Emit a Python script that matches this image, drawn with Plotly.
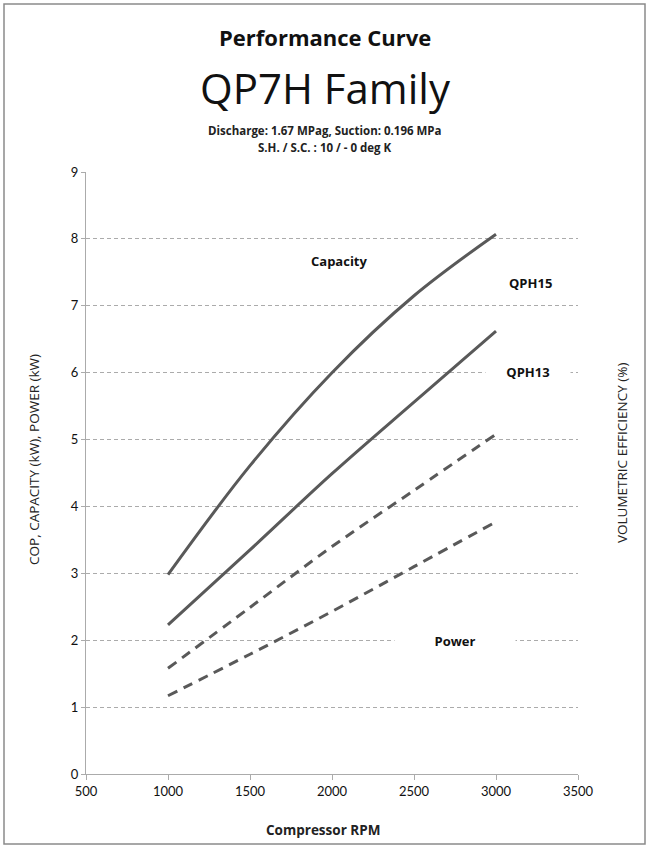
import plotly.graph_objects as go

# ---- data ----
rpm = [1000, 1500, 2000, 2500, 3000]
capacity_qph15 = [2.98, 4.61, 6.00, 7.15, 8.07]
capacity_qph13 = [2.23, 3.35, 4.49, 5.56, 6.62]
power_qph15 = [1.58, 2.49, 3.40, 4.24, 5.08]
power_qph13 = [1.17, 1.79, 2.43, 3.10, 3.77]

x_ticks = [500, 1000, 1500, 2000, 2500, 3000, 3500]
y_ticks = [0, 1, 2, 3, 4, 5, 6, 7, 8, 9]

W, H = 649, 848
L, R, T, B = 86, 578, 172, 774


def px(x):
    return (x - L) / (R - L)


def py(y):
    return (B - y) / (B - T)


LINE = "#595959"
GRID = "#ababab"
FONT = "Open Sans"
TICKFONT = "Lato"

fig = go.Figure()
for ys, dash in [(capacity_qph15, "solid"), (capacity_qph13, "solid"),
                 (power_qph15, "10px,7px"), (power_qph13, "10px,7px")]:
    fig.add_trace(go.Scatter(x=rpm, y=ys, mode="lines",
                             line=dict(color=LINE, width=3, dash=dash, shape="spline"),
                             showlegend=False, hoverinfo="skip"))

fig.update_layout(
    width=W, height=H,
    margin=dict(l=L, r=W - R, t=T, b=H - B),
    paper_bgcolor="white", plot_bgcolor="white",
    font=dict(family=FONT, color="#222"),
    xaxis=dict(range=[500, 3500], tickvals=x_ticks, showgrid=False, zeroline=False,
               showline=True, linecolor=GRID, linewidth=1, ticks="outside",
               ticklen=5, tickcolor=GRID, tickfont=dict(family=TICKFONT, size=13, color="#111")),
    yaxis=dict(range=[0, 9], tickvals=y_ticks, showgrid=True, gridcolor=GRID,
               griddash="4px,3px", gridwidth=1, zeroline=False,
               showline=True, linecolor=GRID, linewidth=1, ticks="outside",
               ticklen=4, tickcolor=GRID, tickfont=dict(family=TICKFONT, size=13, color="#111")),
)

ann = []
# titles
ann.append(dict(text="<b>Performance Curve</b>", x=px(325), y=py(37), font=dict(size=22, color="#111")))
ann.append(dict(text="QP7H Family", x=px(325), y=py(88), font=dict(size=42, color="#111")))
ann.append(dict(text="<b>Discharge: 1.67 MPag, Suction: 0.196 MPa</b>", x=px(325), y=py(130),
                font=dict(size=11.5, color="#222")))
ann.append(dict(text="<b>S.H. / S.C. : 10 / - 0 deg K</b>", x=px(325), y=py(148),
                font=dict(size=11.5, color="#222")))
# axis titles
ann.append(dict(text="<b>Compressor RPM</b>", x=px(323), y=py(830), font=dict(size=13.5, color="#222")))
ann.append(dict(text="COP, CAPACITY (kW), POWER (kW)", x=px(34), y=py(460), textangle=-90,
                font=dict(size=13.5, color="#222")))
ann.append(dict(text="VOLUMETRIC EFFICIENCY (%)", x=px(622), y=py(453), textangle=-90,
                font=dict(size=13.5, color="#222")))
for a in ann:
    a.update(xref="paper", yref="paper", showarrow=False, xanchor="center", yanchor="middle")
    fig.add_annotation(**a)

# in-plot labels
labels = [("Capacity", px(339), py(261), None),
          ("QPH15", px(530), py(283), None),
          ("QPH13", px(528), py(372), 82),
          ("Power", px(455), py(641), 118)]
for text, x, y, w in labels:
    kw = dict(text=f"<b>{text}</b>", x=x, y=y, xref="paper", yref="paper", showarrow=False,
              xanchor="center", yanchor="middle", font=dict(size=13, color="#111"))
    if w:
        kw.update(bgcolor="white", width=w)
    fig.add_annotation(**kw)

# outer border
fig.add_shape(type="rect", xref="paper", yref="paper",
              x0=px(4), x1=px(645), y0=py(844), y1=py(4),
              line=dict(color="#8a8a8a", width=1.5), layer="below")

fig.write_html("out.html", config={"displayModeBar": False},
               post_script="document.body.style.margin='0';")
